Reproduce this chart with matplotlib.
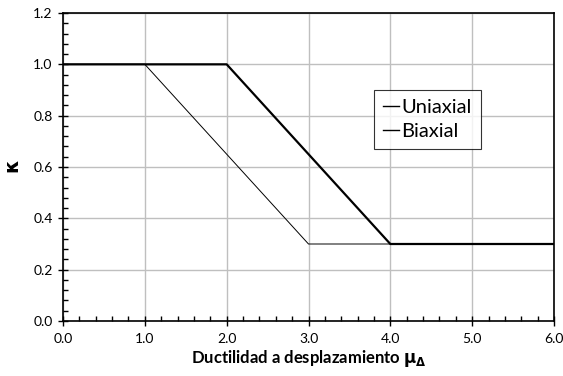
import numpy as np
import matplotlib.pyplot as plt
from matplotlib.ticker import MultipleLocator

plt.rcParams['font.family'] = ['Lato', 'DejaVu Sans']

# Reduction factor kappa vs displacement ductility
mu_uniaxial = [0.0, 2.0, 4.0, 6.0]
k_uniaxial = [1.0, 1.0, 0.3, 0.3]
mu_biaxial = [0.0, 1.0, 3.0, 6.0]
k_biaxial = [1.0, 1.0, 0.3, 0.3]

fig = plt.figure(figsize=(5.63, 3.76), dpi=100)
ax = fig.add_axes([63/563, 1 - 321/376, 491/563, 308/376])

ax.plot(mu_uniaxial, k_uniaxial, color='black', lw=1.6, label='Uniaxial')
ax.plot(mu_biaxial, k_biaxial, color='black', lw=0.7, label='Biaxial')

ax.set_xlim(0, 6)
ax.set_ylim(0, 1.2)
ax.xaxis.set_major_locator(MultipleLocator(1.0))
ax.xaxis.set_minor_locator(MultipleLocator(0.2))
ax.yaxis.set_major_locator(MultipleLocator(0.2))
ax.yaxis.set_minor_locator(MultipleLocator(0.04))
ax.xaxis.set_major_formatter(lambda v, p: f'{v:.1f}')
ax.yaxis.set_major_formatter(lambda v, p: f'{v:.1f}')
ax.tick_params(which='major', direction='inout', length=7, width=1, labelsize=10, colors='black')
ax.tick_params(which='minor', direction='in', length=3.5, width=1)
ax.tick_params(axis='x', pad=5)
ax.tick_params(axis='y', pad=4)
ax.grid(True, which='major', color='#bfbfbf', lw=1)
ax.set_axisbelow(True)
for s in ax.spines.values():
    s.set_linewidth(1.2)

ax.set_xlabel(r'Ductilidad a desplazamiento $\mathbf{\mu_\Delta}$', fontsize=12, fontweight='bold', labelpad=2)
ax.set_ylabel(r'$\mathbf{\kappa}$', fontsize=14, fontweight='bold', labelpad=8)

leg = ax.legend(loc='upper left', bbox_to_anchor=(311/491, 1 - 77/308), fontsize=14.5,
                handlelength=0.8, handletextpad=0.1, frameon=True, fancybox=False,
                borderpad=0.45, labelspacing=0.35, borderaxespad=0)
leg.get_frame().set_edgecolor('black')
leg.get_frame().set_linewidth(0.8)
for h in leg.get_lines():
    h.set_linewidth(1.0)

fig.savefig('out.png', dpi=100)
